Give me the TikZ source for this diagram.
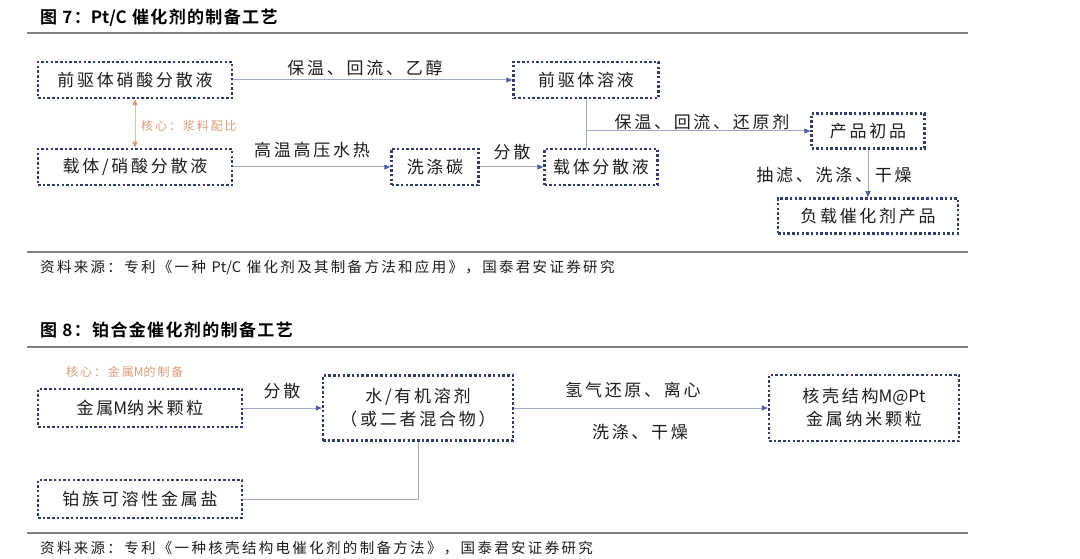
\documentclass[tikz,border=0pt]{standalone}
\usepackage{fontspec}
\setmainfont{Noto Sans CJK SC}[LetterSpace=16]
\newfontfamily\titlefont{Noto Sans CJK SC Bold}[LetterSpace=8]
\usepackage{xcolor}
\usetikzlibrary{arrows.meta}
\definecolor{boxblue}{RGB}{50,60,105}
\definecolor{lineblue}{RGB}{160,170,200}
\definecolor{tipblue}{RGB}{75,95,165}
\definecolor{coreorange}{RGB}{220,155,120}
\definecolor{rulegray}{RGB}{130,130,130}
\definecolor{inkgray}{RGB}{30,30,30}
\newcommand{\lat}[1]{{\addfontfeature{LetterSpace=0}#1}}
\begin{document}
\begin{tikzpicture}[x=1pt,y=-1pt,
  stepbox/.style={draw=boxblue,line width=2.5pt,dash pattern=on 2.5pt off 2.2pt,inner sep=0pt,
    minimum height=36pt,align=center,text=inkgray,font=\fontsize{17}{23}\selectfont},
  flow/.style={draw=lineblue,line width=1pt,-{Triangle[length=6pt,width=5pt,color=tipblue]}},
  plain/.style={draw=lineblue,line width=1pt},
  lbl/.style={text=inkgray,font=\fontsize{17}{19}\selectfont,inner sep=0pt},
  corelbl/.style={text=coreorange,font=\fontsize{12}{14}\selectfont,inner sep=0pt,anchor=west},
  ttl/.style={text=black,font=\titlefont\fontsize{17}{20}\selectfont,inner sep=0pt,anchor=west},
  src/.style={text=inkgray,font=\fontsize{14.5}{16}\selectfont,inner sep=0pt,anchor=west},
  rule/.style={draw=rulegray,line width=1.6pt}]
\fill[white](0,0)rectangle(1080,559);
\useasboundingbox(0,0)rectangle(1080,559);
% figure 7
\node[ttl](t7) at (40,18) {图 7：\lat{Pt/C} 催化剂的制备工艺};
\draw[rule](27,33)--(968,33);
\node[stepbox,minimum width=194pt](b1) at (135,80) {前驱体硝酸分散液};
\node[stepbox,minimum width=145pt](b2) at (586,80) {前驱体溶液};
\node[stepbox,minimum width=194pt](b3) at (135,167) {载体/硝酸分散液};
\node[stepbox,minimum width=87pt](b4) at (435,167) {洗涤碳};
\node[stepbox,minimum width=113pt](b5) at (601,167) {载体分散液};
\node[stepbox,minimum width=113pt,minimum height=35pt](p1) at (868,131) {产品初品};
\node[stepbox,minimum width=180pt,minimum height=35pt](p2) at (868,216) {负载催化剂产品};
\draw[flow](b1)--(b2);
\draw[flow](b3)--(b4);
\draw[flow](b4)--(b5);
\draw[draw=coreorange!70,line width=1pt,{Triangle[length=6pt,width=5pt,color=coreorange]}-{Triangle[length=6pt,width=5pt,color=coreorange]}](b1)--(b3);
\draw[plain](b2.south)--(b2.south|-b5.north);
\coordinate(j1) at (b2.south|-p1.west);
\draw[flow](j1)--(p1.west);
\draw[flow](p1)--(p2);
\node[lbl](l1) at (365,68) {保温、回流、乙醇};
\node[corelbl](l2) at (141,126) {核心：浆料配比};
\node[lbl](l3) at (312,150) {高温高压水热};
\node[lbl](l4) at (512,152) {分散};
\node[lbl](l5) at (702,122) {保温、回流、还原剂};
\node[lbl](l6) at (834,175) {抽滤、洗涤、干燥};
\draw[rule](27,252)--(968,252);
\node[src](s7) at (40,268) {资料来源：专利《一种 \lat{Pt/C} 催化剂及其制备方法和应用》，国泰君安证券研究};
% figure 8
\node[ttl](t8) at (40,330) {图 8：铂合金催化剂的制备工艺};
\draw[rule](27,347)--(968,347);
\node[corelbl](l7) at (66,372) {核心：金属\lat{M}的制备};
\node[stepbox,minimum width=204pt,minimum height=38pt](m1) at (140,408) {金属\lat{M}纳米颗粒};
\node[stepbox,minimum width=190pt,minimum height=65pt](w1) at (418,408) {水/有机溶剂\\（或二者混合物）};
\node[stepbox,minimum width=204pt,minimum height=38pt](s1) at (140,499) {铂族可溶性金属盐};
\node[stepbox,minimum width=190pt,minimum height=66pt](c1) at (864,408) {核壳结构\lat{M@Pt}\\金属纳米颗粒};
\draw[flow](m1)--(w1);
\draw[plain](s1.east)--(s1.east-|w1.south)--(w1.south);
\draw[flow](w1)--(c1);
\node[lbl](l8) at (282,391) {分散};
\node[lbl](l9) at (633,390) {氢气还原、离心};
\node[lbl](l10) at (640,432) {洗涤、干燥};
\draw[rule](27,533)--(968,533);
\node[src](s8) at (40,548) {资料来源：专利《一种核壳结构电催化剂的制备方法》，国泰君安证券研究};
\end{tikzpicture}
\end{document}
